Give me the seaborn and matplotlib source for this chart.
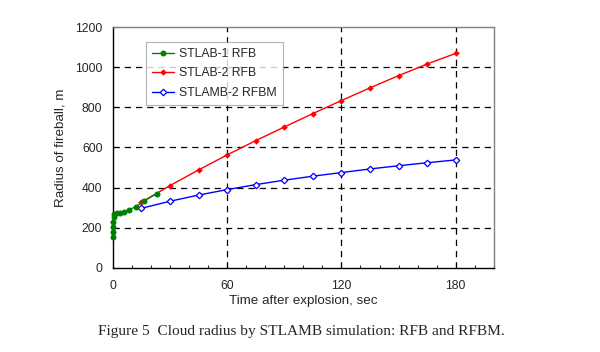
import numpy as np
import pandas as pd
import seaborn as sns
import matplotlib.pyplot as plt
from matplotlib.ticker import MultipleLocator

# Dados
t_stlab1 = [0.3, 0.3, 0.3, 0.3, 0.4, 0.6, 2, 3.7, 5.8, 8.4, 12, 16.5, 23]
r_stlab1 = [155, 180, 205, 230, 252, 267, 272, 275, 280, 289, 305, 334, 370]

t_stlab2 = [15, 30, 45, 60, 75, 90, 105, 120, 135, 150, 165, 180]
r_stlab2 = [327, 410, 488, 563, 634, 702, 769, 834, 897, 958, 1016, 1069]

t_stlamb = [15, 30, 45, 60, 75, 90, 105, 120, 135, 150, 165, 180]
r_stlamb = [297, 332, 363, 390, 415, 437, 457, 475, 493, 509, 524, 538]

sns.set_style('white')
plt.rcParams['font.family'] = ['Liberation Sans', 'DejaVu Sans']

fig = plt.figure(figsize=(6, 3.52), dpi=100)
ax = fig.add_axes([0.188, 0.239, 0.635, 0.684])

df1 = pd.DataFrame({'t': t_stlab1, 'r': r_stlab1})
df2 = pd.DataFrame({'t': t_stlab2, 'r': r_stlab2})
df3 = pd.DataFrame({'t': t_stlamb, 'r': r_stlamb})

sns.lineplot(data=df1, x='t', y='r', ax=ax, estimator=None, sort=False,
             color='#008000', marker='o', markersize=4.3, markeredgewidth=0,
             linewidth=1, label='STLAB-1 RFB', zorder=5, clip_on=False)
sns.lineplot(data=df2, x='t', y='r', ax=ax, estimator=None, sort=False,
             color='#ff0000', marker='D', markersize=3.3, markeredgewidth=0,
             linewidth=1, label='STLAB-2 RFB', zorder=4)
sns.lineplot(data=df3, x='t', y='r', ax=ax, estimator=None, sort=False,
             color='#0000ff', marker='D', markersize=3.3, markerfacecolor='white',
             markeredgecolor='#0000ff', markeredgewidth=0.9,
             linewidth=1, label='STLAMB-2 RFBM', zorder=4)

ax.set_xlim(0, 200)
ax.set_ylim(0, 1200)
ax.xaxis.set_major_locator(MultipleLocator(60))
ax.xaxis.set_minor_locator(MultipleLocator(10))
ax.yaxis.set_major_locator(MultipleLocator(200))

# Grade tracejada
for x in [60, 120, 180]:
    ax.axvline(x, color='black', linestyle=(0, (5, 4)), linewidth=0.9, zorder=1)
for y in [200, 400, 600, 800, 1000]:
    ax.axhline(y, color='black', linestyle=(0, (5, 4)), linewidth=0.9, zorder=1)

ax.tick_params(axis='both', which='both', direction='in', labelsize=8.8,
               bottom=True, left=True, length=4, width=0.8)
ax.tick_params(axis='x', which='both', pad=9)
ax.tick_params(axis='y', which='both', pad=7.5)
ax.tick_params(axis='x', which='minor', length=2.5)

for s in ['left', 'bottom']:
    ax.spines[s].set_color('black')
    ax.spines[s].set_linewidth(1)
for s in ['top', 'right']:
    ax.spines[s].set_color('#808080')
    ax.spines[s].set_linewidth(1)

ax.set_xlabel('Time after explosion, sec', fontsize=9.6, labelpad=2)
ax.set_ylabel('Radius of fireball, m', fontsize=9.6, labelpad=6)

leg = ax.legend(loc='upper left', bbox_to_anchor=(0.087, 0.938), borderaxespad=0,
                fontsize=8.8, frameon=True, fancybox=False, edgecolor='#a0a0a0',
                handlelength=1.8, handletextpad=0.4, borderpad=0.5,
                labelspacing=0.6)
leg.get_frame().set_linewidth(0.8)

fig.text(0.502, 0.057, 'Figure 5  Cloud radius by STLAMB simulation: RFB and RFBM.',
         ha='center', va='center', fontsize=11.1, family=['Liberation Serif', 'DejaVu Serif'])

plt.savefig('out.png', dpi=100)
